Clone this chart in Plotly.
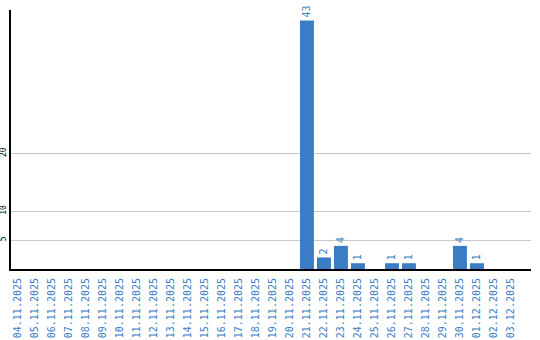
import plotly.graph_objects as go

dates = ["04.11.2025", "05.11.2025", "06.11.2025", "07.11.2025", "08.11.2025",
         "09.11.2025", "10.11.2025", "11.11.2025", "12.11.2025", "13.11.2025",
         "14.11.2025", "15.11.2025", "16.11.2025", "17.11.2025", "18.11.2025",
         "19.11.2025", "20.11.2025", "21.11.2025", "22.11.2025", "23.11.2025",
         "24.11.2025", "25.11.2025", "26.11.2025", "27.11.2025", "28.11.2025",
         "29.11.2025", "30.11.2025", "01.12.2025", "02.12.2025", "03.12.2025"]
counts = [0, 0, 0, 0, 0, 0, 0, 0, 0, 0,
          0, 0, 0, 0, 0, 0, 0, 43, 2, 4,
          1, 0, 1, 1, 0, 0, 4, 1, 0, 0]
y_ticks = [5, 10, 20]

BLUE = "#3b7dc4"
FONT = "DejaVu Sans Mono"

fig = go.Figure()
fig.add_trace(go.Bar(
    x=list(range(len(dates))),
    y=counts,
    marker=dict(color=BLUE, line=dict(width=0)),
    text=[str(v) if v > 0 else "" for v in counts],
    textposition="outside",
    textangle=-90,
    constraintext="none",
    cliponaxis=False,
    textfont=dict(family=FONT, size=10, color=BLUE),
    width=0.82,
))

fig.update_layout(
    width=540, height=340,
    margin=dict(l=11, r=9, t=10, b=71),
    paper_bgcolor="white", plot_bgcolor="white",
    showlegend=False,
    xaxis=dict(
        tickmode="array", tickvals=list(range(len(dates))), ticktext=dates,
        tickangle=-90, range=[-0.41, 30.18],
        tickfont=dict(family=FONT, size=10, color=BLUE),
        ticklabelstandoff=3,
        showgrid=False, zeroline=False, automargin=False,
        showline=True, linecolor="black", linewidth=2,
        ticks="", ticklen=0,
    ),
    yaxis=dict(
        tickmode="array", tickvals=y_ticks, ticktext=[str(t) for t in y_ticks],
        tickangle=-90, range=[0, 44.8],
        tickfont=dict(family=FONT, size=8, color="black"),
        showgrid=True, gridcolor="#c8c8c8", gridwidth=1,
        zeroline=False, automargin=False,
        showline=True, linecolor="black", linewidth=2,
        ticks="", ticklen=0,
    ),
)

fig.write_html("out.html")
